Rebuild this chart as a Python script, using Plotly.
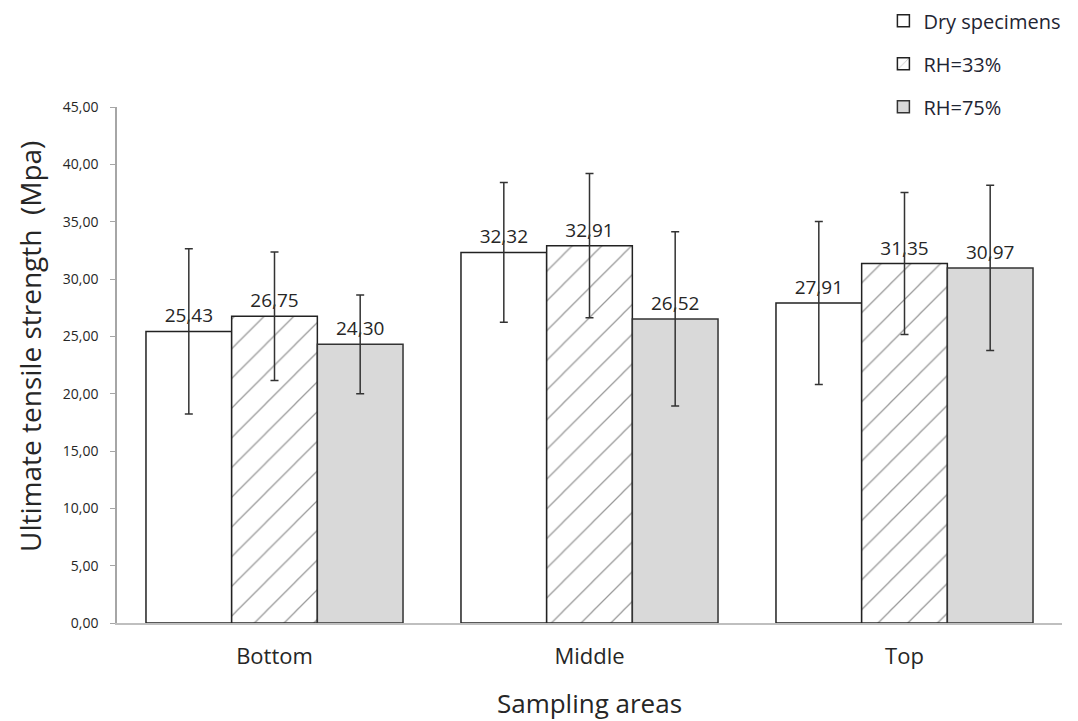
import plotly.graph_objects as go

categories = ["Bottom", "Middle", "Top"]
dry = [25.43, 32.32, 27.91]
dry_err = [7.2, 6.1, 7.1]
rh33 = [26.75, 32.91, 31.35]
rh33_err = [5.6, 6.3, 6.2]
rh75 = [24.30, 26.52, 30.97]
rh75_err = [4.3, 7.6, 7.2]
series_names = ["Dry specimens", "RH=33%", "RH=75%"]
y_ticks = [0, 5, 10, 15, 20, 25, 30, 35, 40, 45]

FONT = "Open Sans"
TXT = "#262626"

err_style = dict(type="data", thickness=1.5, width=4, color="#333333")
label_font = dict(size=19, color=TXT, family=FONT)

fig = go.Figure()
fig.add_trace(go.Bar(
    x=categories, y=dry, name=series_names[0], legendgroup="a",
    marker=dict(color="white", line=dict(color="#222222", width=1.5)),
    error_y=dict(array=dry_err, **err_style),
    text=dry, texttemplate="%{y:.2f}", textposition="outside",
    textfont=label_font, cliponaxis=False,
))
fig.add_trace(go.Bar(
    x=categories, y=rh33, name=series_names[1], legendgroup="b",
    marker=dict(color="white", line=dict(color="#222222", width=1.5),
                pattern=dict(shape="/", size=21, solidity=0.06,
                             fgcolor="#333333", bgcolor="white")),
    error_y=dict(array=rh33_err, **err_style),
    text=rh33, texttemplate="%{y:.2f}", textposition="outside",
    textfont=label_font, cliponaxis=False,
))
fig.add_trace(go.Bar(
    x=categories, y=rh75, name=series_names[2], legendgroup="c",
    marker=dict(color="#d9d9d9", line=dict(color="#333333", width=1.5)),
    error_y=dict(array=rh75_err, **err_style),
    text=rh75, texttemplate="%{y:.2f}", textposition="outside",
    textfont=label_font, cliponaxis=False,
))

fig.update_layout(
    width=1078, height=721,
    margin=dict(l=117, r=16, t=107, b=98, autoexpand=False),
    paper_bgcolor="white", plot_bgcolor="white",
    separators=", ",
    barmode="group", bargap=0.184, bargroupgap=0,
    font=dict(family=FONT, color=TXT),
    showlegend=True,
    legend=dict(x=0.811, xanchor="left", y=1.205, yanchor="top",
                traceorder="grouped", tracegroupgap=14,
                font=dict(size=20, color="#1f2533", family=FONT),
                bgcolor="rgba(0,0,0,0)"),
    xaxis=dict(
        showline=True, linecolor="#bfbfbf", linewidth=1.5,
        ticks="", tickfont=dict(size=22, color=TXT), ticklabelstandoff=13,
        title=dict(text="Sampling areas", font=dict(size=26, color=TXT), standoff=28),
    ),
    yaxis=dict(
        range=[0, 45], tickvals=y_ticks, tickformat=".2f",
        showline=True, linecolor="#a6a6a6", linewidth=1.5,
        ticks="outside", ticklen=5, tickcolor="#a6a6a6",
        showgrid=False, zeroline=False, ticklabelstandoff=9,
        tickfont=dict(size=14, color=TXT),
    ),
    annotations=[dict(
        text="Ultimate tensile strength  (Mpa)", textangle=-90,
        xref="paper", yref="paper", x=0, y=0.535, xanchor="center", yanchor="middle",
        xshift=-87, showarrow=False, font=dict(size=28, color=TXT, family=FONT),
    )],
)

fig.write_html("out.html", config={"displayModeBar": False},
               post_script="document.body.style.margin='0';")
